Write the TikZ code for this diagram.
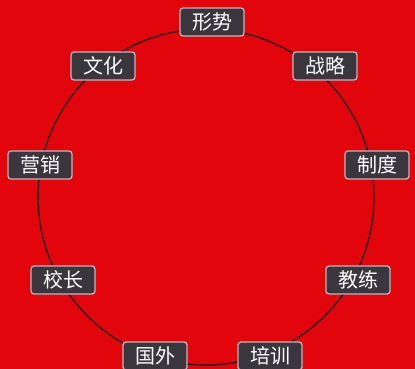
\documentclass[tikz,border=0pt]{standalone}
\usepackage{fontspec}
\newfontfamily\cjk{Noto Sans CJK SC}
\definecolor{bgred}{RGB}{226,6,12}
\definecolor{ringc}{RGB}{50,15,15}
\definecolor{boxfill}{RGB}{58,54,62}
\definecolor{boxedge}{RGB}{190,185,190}
\begin{document}
\begin{tikzpicture}[x=1pt,y=-1pt,
  tag/.style={draw=boxedge, line width=1.3pt, fill=boxfill, rounded corners=3pt,
    text=white, font=\cjk\fontsize{20}{20}\selectfont, minimum width=64pt, minimum height=28pt, inner sep=2pt}]
\fill[bgred] (0,0) rectangle (415,369);
\useasboundingbox (0,0) rectangle (415,369);
\draw[ringc, line width=1.5pt] (206,197) circle [radius=168];
\node[tag] (xs) at (212,22) {形势};
\node[tag] (wh) at (103,66) {文化};
\node[tag] (zl) at (325,66) {战略};
\node[tag] (yx) at (40,165) {营销};
\node[tag] (zd) at (377,165) {制度};
\node[tag] (xz) at (63,280) {校长};
\node[tag] (jl) at (358,280) {教练};
\node[tag] (gw) at (155,356) {国外};
\node[tag] (px) at (270,356) {培训};
\end{tikzpicture}
\end{document}
